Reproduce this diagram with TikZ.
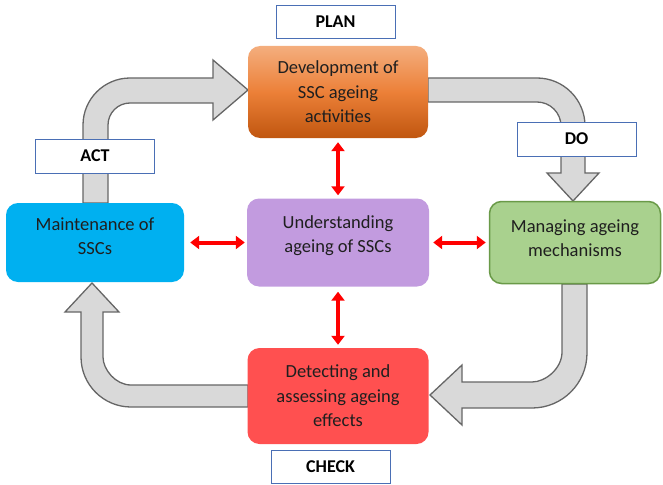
\documentclass[tikz,border=0pt]{standalone}
\usepackage{fontspec}
\setmainfont{Carlito}
\usetikzlibrary{arrows.meta}

\definecolor{planlight}{HTML}{F4AE7E}
\definecolor{planmid}{HTML}{EC8038}
\definecolor{plandark}{HTML}{C0560F}
\definecolor{actblue}{HTML}{00B0F0}
\definecolor{corepurple}{HTML}{C29BDF}
\definecolor{dogreen}{HTML}{A9D18E}
\definecolor{doedge}{HTML}{6A9A48}
\definecolor{checkred}{HTML}{FF5050}
\definecolor{labelblue}{HTML}{4A6FB5}
\definecolor{arrowgray}{HTML}{D9D9D9}
\definecolor{arrowedge}{HTML}{666666}
\definecolor{textdark}{HTML}{1F1F1F}

\tikzset{
  stage/.style={rectangle, rounded corners=12pt, inner sep=0pt},
  phase/.style={rectangle, draw=labelblue, line width=0.8pt, fill=white,
    inner sep=0pt, minimum width=119pt, minimum height=33pt,
    font=\bfseries\fontsize{18}{22}\selectfont, text=black},
  txt/.style={align=center, inner sep=0pt, text=textdark,
    font=\fontsize{18.5}{24.5}\selectfont},
  blockarrow/.style={fill=arrowgray, draw=arrowedge, line width=1.3pt, line join=miter},
  twoway/.style={red, line width=4pt,
    arrows={Triangle[width=13pt,length=9pt]-Triangle[width=13pt,length=9pt]}}
}

\begin{document}
\begin{tikzpicture}[x=1pt,y=-1pt]
\useasboundingbox (0,0) rectangle (663,484);

% bent block arrows of the cycle
% act -> plan
\draw[blockarrow] (108,203) -- (108,125) .. controls (108,112.9) and (117.9,103) .. (130,103)
  -- (213,103) -- (213,120) -- (248,90) -- (213,60) -- (213,78) -- (130,78)
  .. controls (104.1,78) and (83,99.1) .. (83,125) -- (83,203) -- cycle;
% plan -> do
\draw[blockarrow] (428,78) -- (537,78) .. controls (563.5,78) and (585,99.5) .. (585,126)
  -- (585,173) -- (599,173) -- (573,201) -- (547,173) -- (561,173) -- (561,126)
  .. controls (561,112.8) and (550.2,102) .. (537,102) -- (428,102) -- cycle;
% do -> check
\draw[blockarrow] (562,284) -- (562,352) .. controls (562,368.6) and (545.4,382) .. (532,382)
  -- (462,382) -- (462,365) -- (430,395) -- (462,425) -- (462,408) -- (532,408)
  .. controls (562.4,408) and (587,383.4) .. (587,353) -- (587,284) -- cycle;
% check -> act
\draw[blockarrow] (248,385) -- (131,385) .. controls (115.5,385) and (103,369.5) .. (103,357)
  -- (103,312) -- (119,312) -- (92,283) -- (65,312) -- (81,312) -- (81,357)
  .. controls (81,384.6) and (103.4,407) .. (131,407) -- (248,407) -- cycle;

% stage boxes
\node[stage, minimum width=180pt, minimum height=92pt,
  top color=planlight, bottom color=plandark, middle color=planmid] (dev) at (338,92) {};
\node[stage, fill=actblue, minimum width=178pt, minimum height=79pt] (maint) at (95,242.5) {};
\node[stage, fill=corepurple, minimum width=182pt, minimum height=88pt] (under) at (338,242.5) {};
\node[stage, fill=dogreen, draw=doedge, line width=1.5pt,
  minimum width=171pt, minimum height=82pt] (manage) at (575,242.5) {};
\node[stage, fill=checkred, minimum width=181pt, minimum height=96pt] (detect) at (338,396) {};

% stage texts
\node[txt] (dev-t) at (dev.center) {Development of\\SSC ageing\\activities};
\node[txt] (maint-t) at ([yshift=6.5pt]maint.center) {Maintenance of\\SSCs};
\node[txt] (under-t) at ([yshift=7pt]under.center) {Understanding\\ageing of SSCs};
\node[txt] (manage-t) at ([yshift=4.5pt]manage.center) {Managing ageing\\mechanisms};
\node[txt] (detect-t) at (detect.center) {Detecting and\\assessing ageing\\effects};

% phase labels
\node[phase] (plan) at (335.5,21.5) {PLAN};
\node[phase, minimum height=34pt] (act) at (95,156) {ACT};
\node[phase, minimum height=34pt] (do) at (576.5,139) {DO};
\node[phase] (check) at (330.5,466.5) {CHECK};

% two-way links with the central stage
\draw[twoway, shorten <=4pt, shorten >=3pt] (dev.south) -- (under.north);
\draw[twoway, shorten <=5pt, shorten >=3pt] (under.south) -- (detect.north);
\draw[twoway, shorten <=6pt, shorten >=2pt] (maint.east) -- (under.west);
\draw[twoway, shorten <=4pt, shorten >=3pt] (under.east) -- (manage.west);
\end{tikzpicture}
\end{document}
